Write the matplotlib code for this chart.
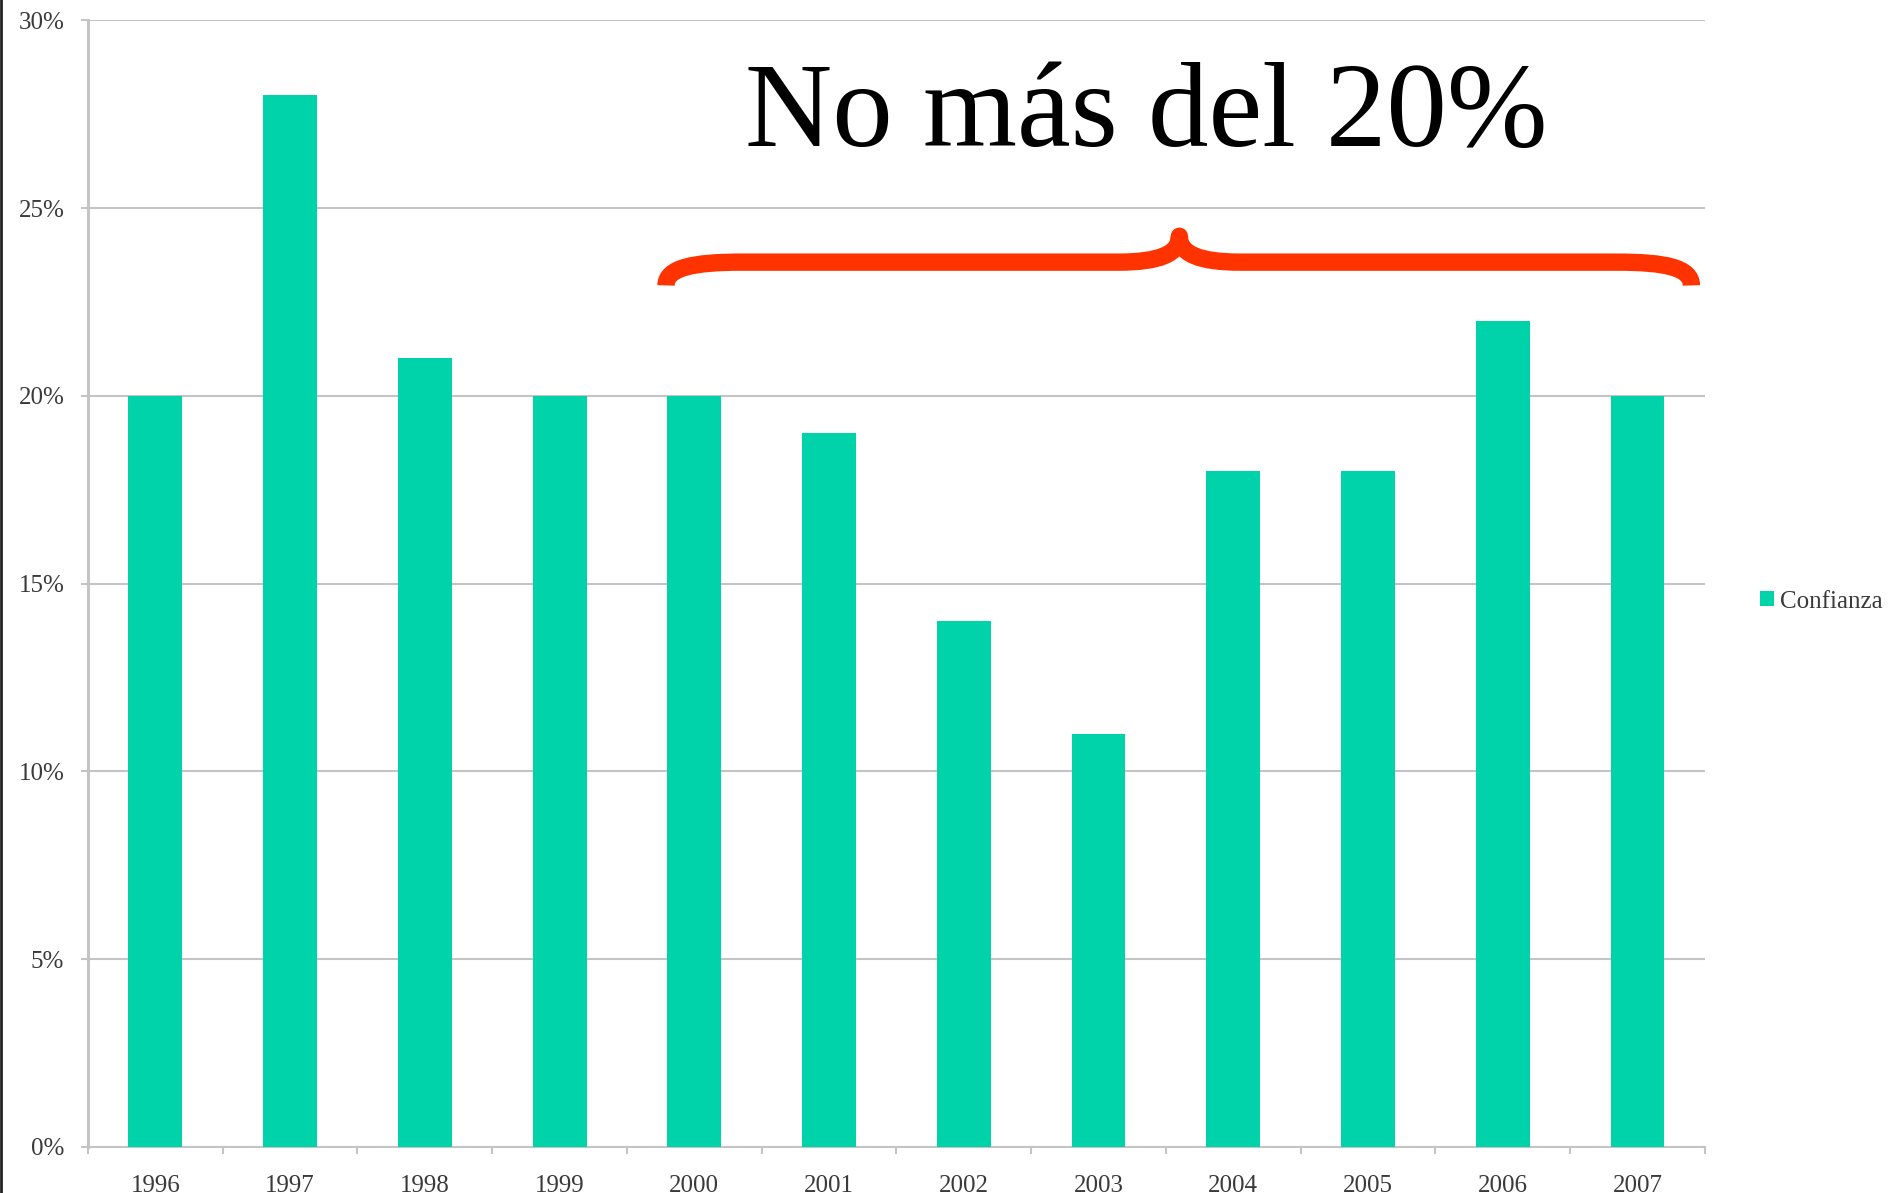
import matplotlib.pyplot as plt
from matplotlib.path import Path
from matplotlib.patches import PathPatch
from matplotlib.lines import Line2D
from matplotlib.ticker import FuncFormatter, MultipleLocator

# datos
years = ['1996', '1997', '1998', '1999', '2000', '2001', '2002', '2003',
         '2004', '2005', '2006', '2007']
confianza = [20, 28, 21, 20, 20, 19, 14, 11, 18, 18, 22, 20]

bar_color = '#00d2aa'
grid_color = '#c4c4c4'
text_color = '#3a3a3a'

plt.rcParams['font.family'] = ['Liberation Serif', 'DejaVu Serif']

fig = plt.figure(figsize=(18.88, 11.93), dpi=100)
ax = fig.add_axes([0.0466, 0.0386, 0.9564 - 0.0466 - 0.0534, 0.983 - 0.0386])

x = list(range(len(years)))
ax.bar(x, confianza, width=0.40, color=bar_color, label='Confianza', zorder=3)

ax.set_xlim(-0.5, len(years) - 0.5)
ax.set_ylim(0, 30)
ax.yaxis.set_major_locator(MultipleLocator(5))
ax.yaxis.set_major_formatter(FuncFormatter(lambda v, p: f'{v:.0f}%'))
ax.grid(axis='y', color=grid_color, linewidth=1.5, zorder=0)

ax.set_xticks(x)
ax.set_xticklabels(years)
ax.set_xticks([i - 0.5 for i in range(len(years) + 1)], minor=True)
ax.tick_params(axis='x', which='major', length=0, pad=20, labelsize=18, labelcolor=text_color)
ax.tick_params(axis='x', which='minor', length=5, width=1.5, color=grid_color)
ax.tick_params(axis='y', length=5, width=1.5, color=grid_color, pad=12,
               labelsize=18, labelcolor=text_color)

for s in ['top', 'right']:
    ax.spines[s].set_visible(False)
ax.spines['left'].set_color(grid_color)
ax.spines['left'].set_linewidth(2.2)
ax.spines['bottom'].set_color(grid_color)
ax.spines['bottom'].set_linewidth(1.5)

leg = ax.legend(loc='center left', bbox_to_anchor=(1.028, 0.484), frameon=False,
                handlelength=0.55, handleheight=0.55, handletextpad=0.25,
                borderaxespad=0, fontsize=18)
for t in leg.get_texts():
    t.set_color(text_color)

# llave roja
verts = [
    (3.79, 22.94),
    (3.79, 23.42), (4.0, 23.56), (4.35, 23.56),
    (7.15, 23.56),
    (7.45, 23.56), (7.6, 23.78), (7.6, 24.25),
    (7.6, 23.78), (7.75, 23.56), (8.05, 23.56),
    (10.85, 23.56),
    (11.2, 23.56), (11.40, 23.42), (11.40, 22.94),
]
codes = ([Path.MOVETO] + [Path.CURVE4] * 3 + [Path.LINETO] + [Path.CURVE4] * 6
         + [Path.LINETO] + [Path.CURVE4] * 3)
brace = PathPatch(Path(verts, codes), facecolor='none', edgecolor='#ff3300',
                  linewidth=12.5, capstyle='butt', joinstyle='round', zorder=5)
ax.add_patch(brace)

fig.text(0.607, 0.878, 'No más del 20%', fontsize=87, ha='center',
         va='baseline', color='black')

# borde izquierdo oscuro
fig.add_artist(Line2D([0.0006, 0.0006], [0, 1], color='#222222', linewidth=2,
                      transform=fig.transFigure))

fig.savefig('out.png', dpi=100)
